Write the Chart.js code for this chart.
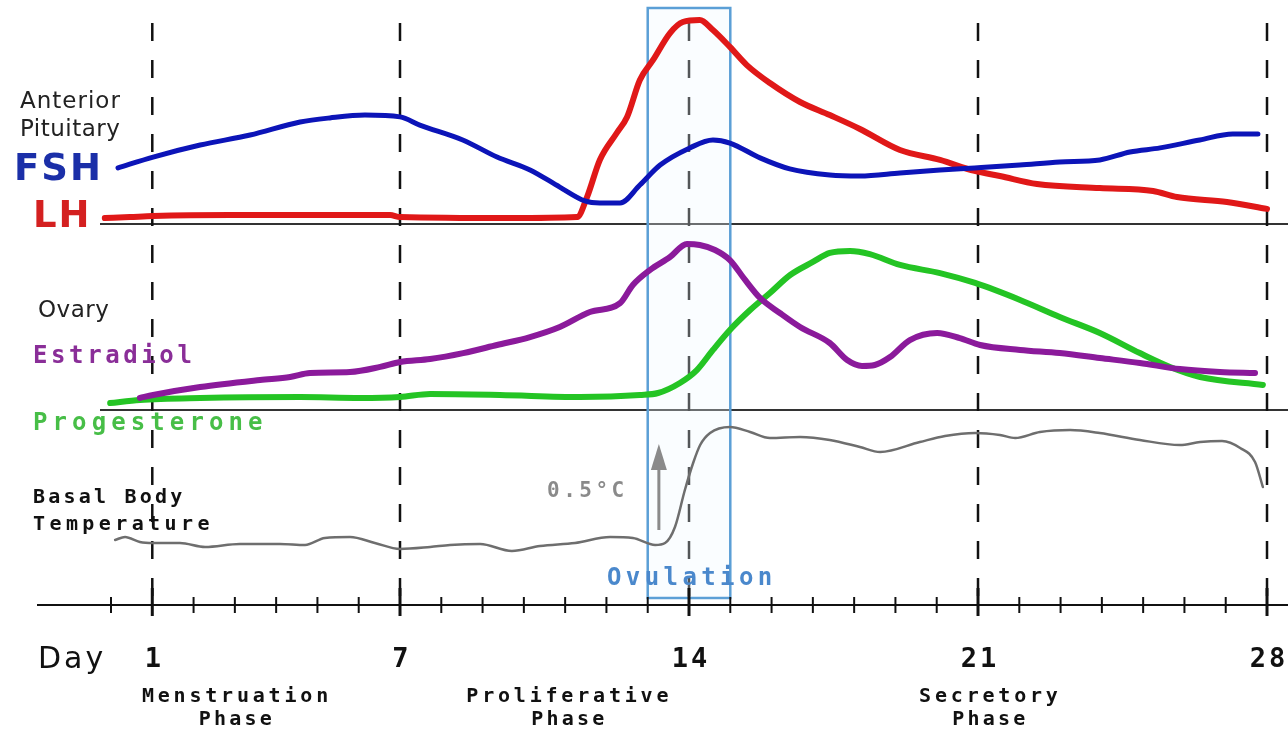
<!DOCTYPE html>
<html>
<head>
<meta charset="utf-8">
<script src="https://cdn.jsdelivr.net/npm/chart.js@4.4.1/dist/chart.umd.min.js"></script>
<style>
  body { margin: 0; background: #fff; }
  #chartContainer { width: 1288px; height: 734px; }
</style>
</head>
<body>
<div id="chartContainer"><canvas id="myChart" width="1288" height="734"></canvas></div>
<script>
/**
 * DATA (levels are relative units)
 */
// anterior pituitary
const fshDays = [0.17, 1.02, 2.16, 3.37, 4.58, 5.30, 6.15, 7.0, 7.48, 8.52, 9.35, 10.15, 10.87, 11.48, 11.84, 12.33, 12.81, 13.30, 14.02, 14.58, 14.99, 15.72, 16.44, 17.41, 18.14, 19.11, 20.08, 20.92, 22.01, 22.98, 23.95, 24.68, 25.41, 26.37, 27.17, 27.78]
const fshLevel = [27.5, 32.8, 38.7, 43.6, 50, 52, 53.4, 52.5, 48.5, 41.2, 32.8, 26.5, 18.1, 11.3, 10.3, 10.3, 19.1, 28.9, 37.3, 41.2, 39.7, 32.4, 27, 24, 23.5, 25, 26.5, 27.5, 28.9, 30.4, 31.4, 35.3, 37.3, 41.2, 44.1, 44.1]
const lhDays = [-0.15, 0.46, 1.02, 2.88, 6.76, 7.0, 9.66, 11.29, 11.53, 11.84, 12.25, 12.5, 12.81, 13.13, 13.54, 13.85, 14.26, 14.58, 14.99, 15.4, 15.96, 16.69, 17.41, 18.14, 19.11, 20.08, 20.92, 21.53, 22.43, 23.95, 25.24, 25.82, 27.03, 28.0]
const lhLevel = [2.9, 3.4, 3.9, 4.4, 4.4, 3.4, 2.9, 3.4, 13.2, 31.4, 44.6, 52.5, 70.6, 80.4, 93.6, 99, 100, 95.1, 86.8, 77.9, 69.1, 59.8, 53.4, 46.6, 36.3, 31.4, 26, 23.5, 19.6, 17.6, 16.2, 13.2, 10.8, 7.4]

// ovary
const e2Days = [0.70, 1.02, 2.16, 3.61, 4.34, 4.82, 5.79, 6.52, 7.0, 7.73, 8.53, 9.35, 10.15, 10.87, 11.6, 12.33, 12.64, 13.05, 13.54, 13.95, 14.26, 14.63, 14.99, 15.36, 15.72, 16.2, 16.69, 17.41, 17.83, 18.19, 18.5, 18.87, 19.35, 20.01, 20.56, 21.05, 22.02, 22.98, 23.95, 24.92, 25.89, 26.86, 27.71]
const e2Level = [7.3, 9.1, 13.9, 18.2, 20, 22.4, 23, 26.1, 29.1, 30.9, 34.5, 39.4, 44.2, 50.3, 59.4, 64.8, 75.8, 84.8, 92.7, 100.6, 100, 97, 90.9, 78.8, 67.9, 58.8, 50.3, 40.6, 30.3, 26.7, 27.3, 32.1, 42.4, 46.7, 43.6, 39.4, 36.4, 34.5, 31.5, 28.5, 24.8, 23, 22.4]
const p4Days = [-0.02, 0.70, 2.16, 4.58, 6.03, 7.0, 7.73, 9.42, 11.36, 12.81, 13.25, 13.78, 14.19, 14.58, 14.99, 15.48, 15.96, 16.45, 17.0, 17.41, 17.9, 18.38, 19.11, 20.08, 20.93, 22.02, 22.98, 23.95, 24.92, 25.65, 26.38, 27.9]
const p4Level = [4.2, 6.1, 7.3, 7.9, 7.3, 7.9, 9.7, 9.1, 7.9, 9.1, 10.3, 16.4, 24.2, 36.4, 48.5, 60.6, 70.9, 81.8, 89.7, 95.2, 96.4, 94.5, 87.9, 83, 77, 66.7, 56.4, 46.7, 34.5, 26.1, 20, 15.2]

// basal body temperature (deg C)
const bbtDays = [0.10, 0.34, 0.70, 1.02, 1.67, 2.28, 3.12, 4.09, 4.70, 5.18, 5.79, 6.39, 7.0, 7.73, 8.21, 8.94, 9.71, 10.39, 11.24, 12.09, 12.64, 13.18, 13.42, 13.66, 13.9, 14.1, 14.27, 14.51, 14.99, 15.48, 15.96, 16.69, 17.41, 18.14, 18.63, 19.59, 20.2, 20.93, 21.53, 21.9, 22.5, 23.23, 23.95, 24.92, 25.89, 26.38, 26.91, 27.35, 27.71, 27.9]
const bbtTemp = [36.415, 36.43, 36.405, 36.40, 36.40, 36.38, 36.395, 36.395, 36.39, 36.425, 36.43, 36.40, 36.37, 36.38, 36.39, 36.395, 36.36, 36.385, 36.40, 36.43, 36.425, 36.39, 36.40, 36.48, 36.665, 36.80, 36.89, 36.95, 36.98, 36.955, 36.925, 36.93, 36.915, 36.88, 36.855, 36.905, 36.935, 36.95, 36.94, 36.925, 36.955, 36.965, 36.95, 36.915, 36.89, 36.905, 36.91, 36.875, 36.805, 36.68]

// x axis
const dayTicks = [1, 7, 14, 21, 28]
const phaseNames = [['Menstruation', 'Phase', 3.05], ['Proliferative', 'Phase', 11.1], ['Secretory', 'Phase', 21.3]]
const ovulationDays = [13, 15]


/**
 * LAYOUT HELPERS
 */
const H = 734
const pxPerDay = 41.286
const dayZeroPx = 111
// value v0 sits at pixel px0, k px for one unit
let yRange = (v0, px0, k) => ({ min: v0 - (H - px0) / k, max: v0 + px0 / k, display: false })
let pts = (xs, ys) => xs.map((d, i) => ({ x: d, y: ys[i] }))

let lineSet = (label, data, color, width, axis) => ({
    label: label,
    data: data,
    yAxisID: axis,
    showLine: true,
    borderColor: color,
    borderWidth: width,
    pointRadius: 0,
    tension: 0.4,
    cubicInterpolationMode: 'monotone',
    borderCapStyle: 'round',
    borderJoinStyle: 'round'
})

let txt = (ctx, s, x, y, font, color, align, spacing) => {
    ctx.font = font
    ctx.fillStyle = color
    ctx.textAlign = align || 'left'
    ctx.textBaseline = 'middle'
    ctx.letterSpacing = (spacing || 0) + 'px'
    ctx.fillText(s, x, y)
    ctx.letterSpacing = '0px'
}

const mono = '"DejaVu Sans Mono"'
const sans = '"DejaVu Sans"'


/**
 * DECORATION PLUGIN
 */
const decor = {
    id: 'decor',
    beforeDatasetsDraw(chart) {
        const ctx = chart.ctx
        const x = chart.scales.x
        const axisY = 605
        ctx.save()

        // panel separators
        ctx.strokeStyle = '#333'
        ctx.lineWidth = 2
        let topBase = chart.scales.yTop.getPixelForValue(0)
        let midBase = chart.scales.yMid.getPixelForValue(0)
        ;[topBase, midBase].forEach(y => {
            ctx.beginPath()
            ctx.moveTo(100, y)
            ctx.lineTo(1288, y)
            ctx.stroke()
        })

        // dashed day lines
        ctx.strokeStyle = '#111'
        ctx.lineWidth = 2.5
        ctx.setLineDash([18, 19])
        dayTicks.forEach(d => {
            let px = x.getPixelForValue(d)
            ctx.beginPath()
            ctx.moveTo(px, 23)
            ctx.lineTo(px, axisY)
            ctx.stroke()
        })
        ctx.setLineDash([])

        // ovulation box
        let x0 = x.getPixelForValue(ovulationDays[0])
        let x1 = x.getPixelForValue(ovulationDays[1])
        ctx.fillStyle = 'rgba(240,248,255,0.3)'
        ctx.fillRect(x0, 8, x1 - x0, 590)
        ctx.strokeStyle = '#5b9fd6'
        ctx.lineWidth = 2.5
        ctx.strokeRect(x0, 8, x1 - x0, 590)

        // day axis
        ctx.strokeStyle = '#111'
        ctx.lineWidth = 2
        ctx.beginPath()
        ctx.moveTo(37, axisY)
        ctx.lineTo(1288, axisY)
        ctx.stroke()
        for (let d = 0; d <= 28; d++) {
            let px = x.getPixelForValue(d)
            let major = dayTicks.includes(d)
            ctx.lineWidth = major ? 3 : 2
            ctx.beginPath()
            ctx.moveTo(px, major ? 588 : 597)
            ctx.lineTo(px, major ? 616 : 613)
            ctx.stroke()
        }
        ctx.restore()
    },
    afterDatasetsDraw(chart) {
        const ctx = chart.ctx
        const x = chart.scales.x
        ctx.save()

        // left side labels
        txt(ctx, 'Anterior', 20, 102, '23px ' + sans, '#222', 'left', 1)
        txt(ctx, 'Pituitary', 20, 130, '23px ' + sans, '#222', 'left', 0.5)
        txt(ctx, 'FSH', 14, 170, 'bold 37px ' + sans, '#1b2fa8', 'left', 2)
        txt(ctx, 'LH', 33, 217, 'bold 37px ' + sans, '#d42020', 'left', 2)
        txt(ctx, 'Ovary', 38, 311, '23px ' + sans, '#222', 'left', 0.5)
        txt(ctx, 'Estradiol', 33, 357, 'bold 24px ' + mono, '#8a2e98', 'left', 3.6)
        txt(ctx, 'Progesterone', 33, 424, 'bold 24px ' + mono, '#47be47', 'left', 5.1)
        txt(ctx, 'Basal Body', 33, 498, 'bold 20px ' + mono, '#111', 'left', 3.2)
        txt(ctx, 'Temperature', 33, 525, 'bold 20px ' + mono, '#111', 'left', 4.4)

        // temperature rise arrow
        let ax = x.getPixelForValue(13.27)
        ctx.strokeStyle = '#8a8a8a'
        ctx.fillStyle = '#8a8a8a'
        ctx.lineWidth = 3
        ctx.beginPath()
        ctx.moveTo(ax, 530)
        ctx.lineTo(ax, 465)
        ctx.stroke()
        ctx.beginPath()
        ctx.moveTo(ax, 444)
        ctx.lineTo(ax - 8, 470)
        ctx.lineTo(ax + 8, 470)
        ctx.closePath()
        ctx.fill()
        txt(ctx, '0.5°C', 547, 492, 'bold 21px ' + mono, '#8a8a8a', 'left', 3.5)

        txt(ctx, 'Ovulation', 607, 579, 'bold 24px ' + mono, '#4a88cc', 'left', 4.4)

        // x labels
        txt(ctx, 'Day', 38, 660, '30px ' + sans, '#111', 'left', 3)
        dayTicks.forEach(d => {
            txt(ctx, String(d), x.getPixelForValue(d) + 2, 660, 'bold 27px ' + mono, '#111', 'center', 3)
        })
        phaseNames.forEach(p => {
            let px = x.getPixelForValue(p[2])
            txt(ctx, p[0], px, 697, 'bold 20px ' + mono, '#111', 'center', 3.8)
            txt(ctx, p[1], px, 720, 'bold 20px ' + mono, '#111', 'center', 3.2)
        })
        ctx.restore()
    }
}


/**
 * CHART
 */
const data = {
    datasets: [
        lineSet('FSH', pts(fshDays, fshLevel), '#0c14b8', 5, 'yTop'),
        lineSet('LH', pts(lhDays, lhLevel), '#e01818', 6, 'yTop'),
        lineSet('Estradiol', pts(e2Days, e2Level), '#8b1a9b', 6, 'yMid'),
        lineSet('Progesterone', pts(p4Days, p4Level), '#24c424', 6, 'yMid'),
        lineSet('Basal Body Temperature', pts(bbtDays, bbtTemp), '#6e6e6e', 2.5, 'yBot')
    ]
}

const config = {
    type: 'scatter',
    data: data,
    options: {
        responsive: false,
        animation: false,
        layout: { padding: 0 },
        plugins: { legend: { display: false }, tooltip: { enabled: false } },
        scales: {
            x: { type: 'linear', display: false, min: -dayZeroPx / pxPerDay, max: (1288 - dayZeroPx) / pxPerDay },
            yTop: yRange(0, 224, 2.04),
            yMid: yRange(0, 410, 1.65),
            yBot: yRange(36.4, 543, 200)
        }
    },
    plugins: [decor]
}

const myChart = new Chart(document.getElementById('myChart'), config)
</script>
</body>
</html>
